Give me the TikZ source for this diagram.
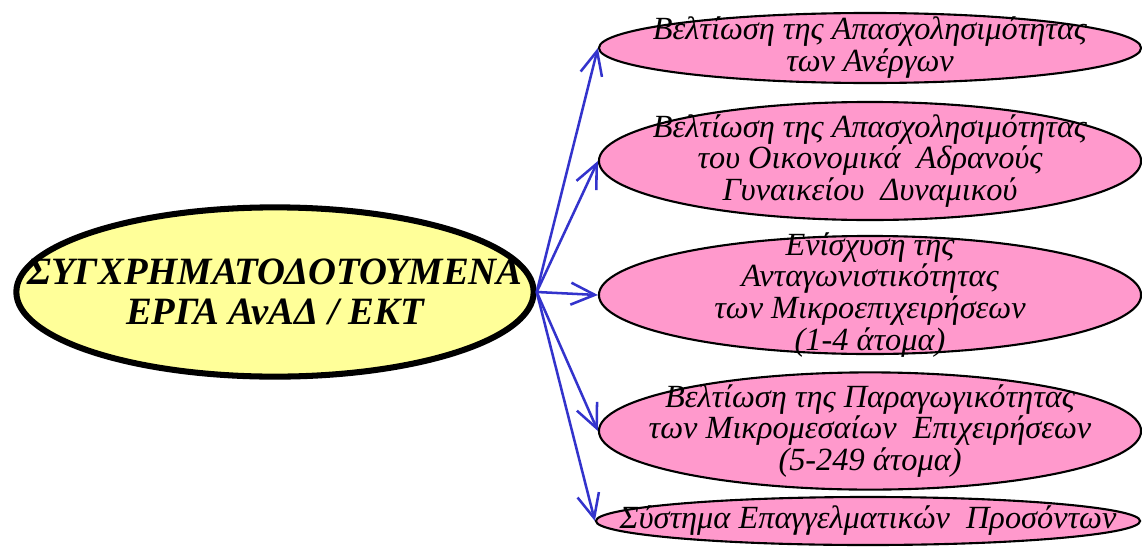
\documentclass[tikz,border=0pt]{standalone}
\usepackage{fontspec}
\setmainfont{Liberation Serif}
\usetikzlibrary{arrows.meta,shapes.geometric}
\definecolor{ovalpink}{HTML}{FF99CC}
\definecolor{ovalyellow}{HTML}{FFFF99}
\definecolor{linkblue}{HTML}{3333CC}

\begin{document}
\begin{tikzpicture}[x=0.025cm,y=-0.025cm,
  pinkoval/.style={ellipse,draw,fill=ovalpink,line width=1.5pt,minimum width=13.55cm,inner sep=0pt},
  ovaltext/.style={font=\fontsize{23}{22.7}\selectfont\itshape,align=center,inner sep=0pt},
  link/.style={linkblue,line width=1.8pt,-{Straight Barb[length=6mm,width=5.5mm]}}]
  \useasboundingbox (0,0) rectangle (1142,546);
  % Central oval
  \node[ellipse,draw,line width=4.3pt,fill=ovalyellow,minimum width=12.93cm,
    minimum height=4.23cm,inner sep=0pt] (erga) at (275,292) {};
  \node[font=\fontsize{27.5}{28.5}\selectfont\bfseries\itshape,align=center,inner sep=0pt]
    (ergatext) at (erga) {ΣΥΓΧΡΗΜΑΤΟΔΟΤΟΥΜΕΝΑ\\ΕΡΓΑ ΑνΑΔ / ΕΚΤ};
  % Target ovals
  \node[pinkoval,minimum height=1.75cm] (anergoi) at (870,48) {};
  \node[ovaltext] (anergoitext) at (anergoi) {Βελτίωση της Απασχολησιμότητας\\των Ανέργων};
  \node[pinkoval,minimum height=2.95cm] (gynaikes) at (870,161) {};
  \node[ovaltext] (gynaikestext) at (gynaikes) {Βελτίωση της Απασχολησιμότητας\\του Οικονομικά~ Αδρανούς\\Γυναικείου~ Δυναμικού};
  \node[pinkoval,minimum height=2.95cm] (mikro) at (870,295) {};
  \node[ovaltext] (mikrotext) at (mikro) {Ενίσχυση της\\Ανταγωνιστικότητας\\των Μικροεπιχειρήσεων\\(1-4 άτομα)};
  \node[pinkoval,minimum height=2.93cm] (mme) at (870,431) {};
  \node[ovaltext] (mmetext) at (mme) {Βελτίωση της Παραγωγικότητας\\των Μικρομεσαίων~ Επιχειρήσεων\\(5-249 άτομα)};
  \node[pinkoval,minimum height=1.2cm,minimum width=13.6cm] (prosonta) at (868,521) {};
  \node[ovaltext] (prosontatext) at (prosonta) {Σύστημα Επαγγελματικών~ Προσόντων};
  % Links
  \foreach \target in {anergoi,gynaikes,mikro,mme,prosonta}
    \draw[link] (erga.east) -- (\target.west);
\end{tikzpicture}
\end{document}
